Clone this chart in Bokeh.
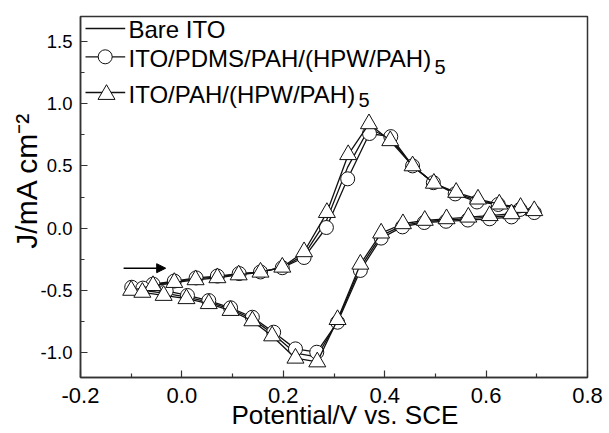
from bokeh.plotting import figure
from bokeh.models import Range1d, FixedTicker, PrintfTickFormatter, Label, Arrow, NormalHead
from bokeh.embed import file_html
from bokeh.resources import INLINE

# ---------------- data ----------------
# ITO/PAH/(HPW/PAH)5  (triangles)
pot_pah = [-0.100, -0.057, -0.015, 0.027, 0.070, 0.112, 0.155, 0.198, 0.241, 0.286,
           0.328, 0.369, 0.411, 0.455, 0.497, 0.541, 0.584, 0.626, 0.668, 0.695,
           0.650, 0.607, 0.565, 0.522, 0.479, 0.436, 0.393, 0.352, 0.307, 0.267,
           0.224, 0.178, 0.139, 0.096, 0.053, 0.009, -0.036, -0.078]
cur_pah = [-0.500, -0.462, -0.437, -0.415, -0.399, -0.376, -0.354, -0.314, -0.190, 0.125,
           0.590, 0.838, 0.702, 0.500, 0.360, 0.287, 0.233, 0.193, 0.166, 0.140,
           0.115, 0.100, 0.088, 0.075, 0.062, 0.035, -0.040, -0.290, -0.735, -1.075,
           -1.045, -0.866, -0.745, -0.662, -0.607, -0.567, -0.541, -0.516]

# ITO/PDMS/PAH/(HPW/PAH)5  (circles)
pot_pdms = [-0.099, -0.057, -0.015, 0.028, 0.070, 0.113, 0.155, 0.198, 0.241, 0.285,
            0.327, 0.370, 0.412, 0.455, 0.496, 0.539, 0.582, 0.624, 0.667, 0.695,
            0.650, 0.607, 0.564, 0.521, 0.478, 0.435, 0.393, 0.352, 0.307, 0.266,
            0.224, 0.181, 0.139, 0.096, 0.053, 0.011, -0.031, -0.077]
cur_pdms = [-0.475, -0.450, -0.425, -0.400, -0.385, -0.365, -0.352, -0.318, -0.236, 0.005,
            0.396, 0.760, 0.735, 0.500, 0.365, 0.275, 0.210, 0.190, 0.150, 0.125,
            0.090, 0.075, 0.065, 0.055, 0.045, 0.010, -0.080, -0.340, -0.756, -0.997,
            -0.970, -0.836, -0.716, -0.640, -0.582, -0.541, -0.505, -0.482]

# Bare ITO (line only)
pot_bare = [-0.100, -0.057, -0.015, 0.027, 0.070, 0.112, 0.155, 0.198, 0.241, 0.285,
            0.327, 0.369, 0.411, 0.455, 0.497, 0.540, 0.583, 0.625, 0.667, 0.695,
            0.650, 0.607, 0.565, 0.522, 0.479, 0.436, 0.393, 0.352, 0.307, 0.266,
            0.224, 0.180, 0.139, 0.096, 0.053, 0.010, -0.035, -0.078]
cur_bare = [-0.485, -0.455, -0.430, -0.407, -0.392, -0.370, -0.353, -0.316, -0.215, 0.060,
            0.490, 0.800, 0.720, 0.500, 0.362, 0.280, 0.222, 0.190, 0.158, 0.132,
            0.100, 0.088, 0.077, 0.065, 0.053, 0.022, -0.060, -0.315, -0.745, -1.035,
            -1.005, -0.850, -0.730, -0.650, -0.595, -0.555, -0.523, -0.500]

series_names = ["Bare ITO", "ITO/PDMS/PAH/(HPW/PAH)", "ITO/PAH/(HPW/PAH)"]
subscript = "5"

x_ticks = [-0.2, 0.0, 0.2, 0.4, 0.6, 0.8]
x_minor = [-0.1, 0.1, 0.3, 0.5, 0.7]
y_ticks = [-1.0, -0.5, 0.0, 0.5, 1.0, 1.5]
y_minor = [-0.75, -0.25, 0.25, 0.75, 1.25]
x_title = "Potential/V vs. SCE"
y_title = "J/mA cm\u207b\u00b2"
scan_arrow_x = [-0.115, -0.032]
scan_arrow_y = -0.322

# ---------------- layout ----------------
X0, X1 = -0.2, 0.8
Y0, Y1 = -1.2, 1.7
FL, FR, FT, FB = 80, 587, 16, 377
W, H = 609, 433
FONT = "Liberation Sans"
NB = "\u00a0"


def px2x(px):
    return X0 + (px - FL) * (X1 - X0) / (FR - FL)


def px2y(py):
    return Y0 + (FB - py) * (Y1 - Y0) / (FB - FT)


p = figure(width=W, height=H, output_backend="svg", toolbar_location=None,
           x_range=Range1d(X0, X1), y_range=Range1d(Y0, Y1),
           min_border_left=FL, min_border_right=W - FR,
           min_border_top=FT, min_border_bottom=H - FB)
p.background_fill_color = "white"
p.border_fill_color = "white"
p.grid.visible = False
p.outline_line_color = "#333333"
p.outline_line_width = 1.5

for ax in (p.xaxis[0], p.yaxis[0]):
    ax.axis_line_color = "#333333"
    ax.axis_line_width = 1.5
    ax.major_tick_line_color = "#333333"
    ax.minor_tick_line_color = "#333333"
    ax.major_tick_line_width = 1.2
    ax.minor_tick_line_width = 1.2
    ax.major_tick_in = 7
    ax.major_tick_out = 0
    ax.minor_tick_in = 4
    ax.minor_tick_out = 0
    ax.major_label_text_font = FONT
    ax.major_label_text_color = "black"
    ax.formatter = PrintfTickFormatter(format="%.1f")
    ax.axis_label_text_font = FONT
    ax.axis_label_text_color = "black"
    ax.axis_label_text_font_style = "normal"

p.xaxis[0].ticker = FixedTicker(ticks=x_ticks, minor_ticks=x_minor)
p.yaxis[0].ticker = FixedTicker(ticks=y_ticks, minor_ticks=y_minor)
p.xaxis[0].major_label_text_font_size = "22px"
p.yaxis[0].major_label_text_font_size = "18.5px"
p.xaxis[0].major_label_standoff = 10
p.yaxis[0].major_label_standoff = 8

p.xaxis[0].axis_label = NB * 3 + x_title
p.xaxis[0].axis_label_text_font_size = "26px"
p.xaxis[0].axis_label_standoff = -6
p.yaxis[0].axis_label = NB * 4 + y_title
p.yaxis[0].axis_label_text_font_size = "30px"
p.yaxis[0].axis_label_standoff = -5

# ---------------- curves ----------------
p.line(pot_bare + pot_bare[:1], cur_bare + cur_bare[:1], line_color="#111111", line_width=1.3)
p.line(pot_pdms + pot_pdms[:1], cur_pdms + cur_pdms[:1], line_color="#111111", line_width=1.3)
p.scatter(pot_pdms, cur_pdms, marker="circle", size=14, fill_color="white",
          line_color="#111111", line_width=1)
p.line(pot_pah + pot_pah[:1], cur_pah + cur_pah[:1], line_color="#111111", line_width=1.3)
p.scatter(pot_pah, cur_pah, marker="triangle", size=17, fill_color="white",
          line_color="#111111", line_width=1)

# scan direction arrow
p.add_layout(Arrow(end=NormalHead(size=9, fill_color="black", line_color="black"),
                   x_start=scan_arrow_x[0], y_start=scan_arrow_y,
                   x_end=scan_arrow_x[1], y_end=scan_arrow_y,
                   line_color="black", line_width=1.5))

# ---------------- legend (drawn by hand for the subscripts) ----------------
lx0, lx1 = px2x(85), px2x(124.7)
row_line_py = [28, 56.3, 92]
row_text_py = [29.2, 57.8, 94]
for py in row_line_py:
    p.line([lx0, lx1], [px2y(py), px2y(py)], line_color="#111111", line_width=1.3)
p.scatter([px2x(104.7)], [px2y(row_line_py[1])], marker="circle", size=14,
          fill_color="white", line_color="#111111", line_width=1)
p.scatter([px2x(106)], [px2y(row_line_py[2] + 2)], marker="triangle", size=17,
          fill_color="white", line_color="#111111", line_width=1)
for i, name in enumerate(series_names):
    p.add_layout(Label(x=px2x(128), y=px2y(row_text_py[i]), text=name,
                       text_font=FONT, text_font_size="24px", text_color="black",
                       text_align="left", text_baseline="middle"))
sub_pos = [(434, 66.5), (358, 99)]
for sx, sy in sub_pos:
    p.add_layout(Label(x=px2x(sx), y=px2y(sy), text=subscript,
                       text_font=FONT, text_font_size="20px", text_color="black",
                       text_align="left", text_baseline="middle"))

open("out.html", "w").write(file_html(p, INLINE))
